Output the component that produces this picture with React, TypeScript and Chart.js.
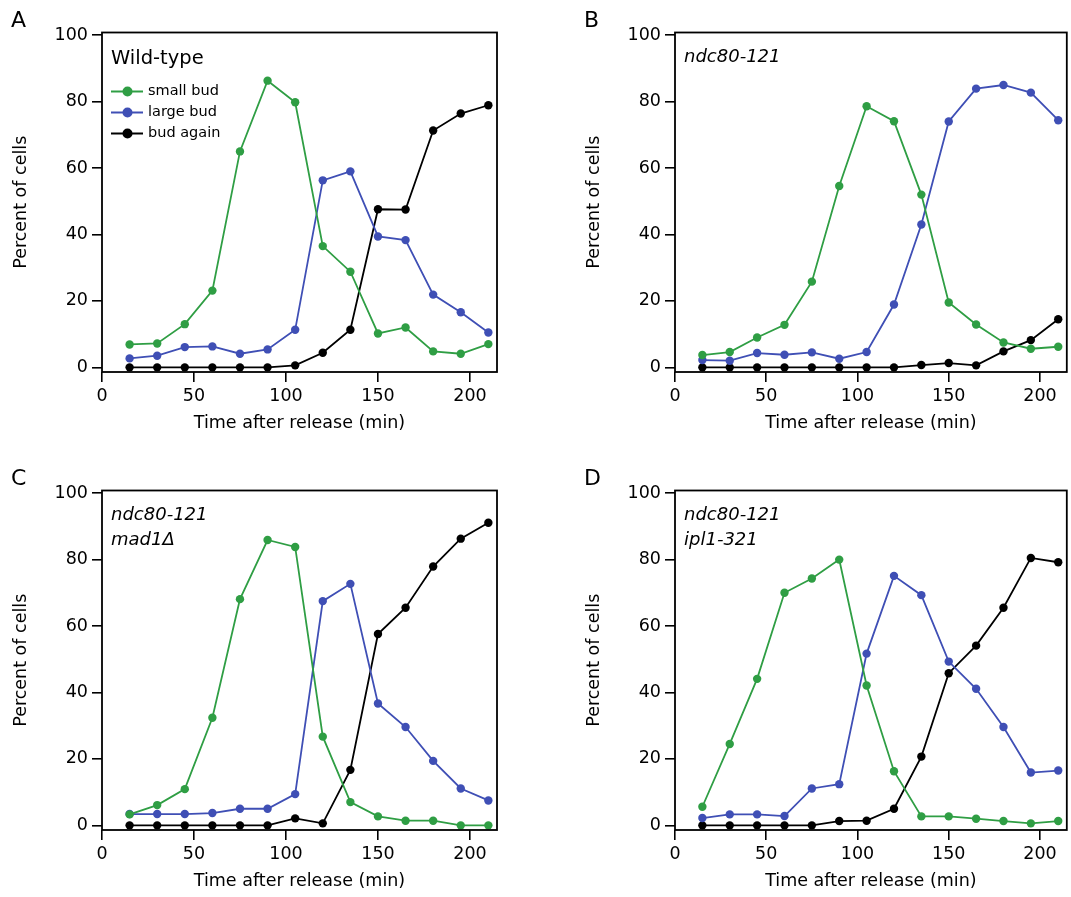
import React, { useEffect, useRef } from 'react';
import { Chart, registerables } from 'chart.js';

Chart.register(...registerables);

// ---- data ----
const times = [15, 30, 45, 60, 75, 90, 105, 120, 135, 150, 165, 180, 195, 210];
const xTickValues = [0, 50, 100, 150, 200];
const yTickValues = [0, 20, 40, 60, 80, 100];
const seriesLabels = ['small bud', 'large bud', 'bud again'];
const xTitle = 'Time after release (min)';
const yTitle = 'Percent of cells';

const wtSmall = [6.9, 7.2, 13.0, 23.1, 65.0, 86.3, 79.8, 36.5, 28.8, 10.2, 12.0, 4.8, 4.1, 7.0];
const wtLarge = [2.7, 3.5, 6.1, 6.3, 4.1, 5.4, 11.3, 56.3, 59.0, 39.4, 38.3, 21.9, 16.6, 10.5];
const wtAgain = [0, 0, 0, 0, 0, 0, 0.6, 4.4, 11.3, 47.6, 47.5, 71.3, 76.4, 78.9];

const ndcSmall = [3.7, 4.6, 9.0, 12.8, 25.8, 54.6, 78.6, 74.1, 52.0, 19.5, 12.9, 7.5, 5.6, 6.2];
const ndcLarge = [2.2, 2.0, 4.3, 3.8, 4.5, 2.6, 4.6, 18.9, 43.0, 74.0, 83.9, 85.0, 82.7, 74.4];
const ndcAgain = [0, 0, 0, 0, 0, 0, 0, 0, 0.7, 1.3, 0.6, 4.8, 8.2, 14.5];

const madSmall = [3.3, 6.1, 10.9, 32.4, 68.1, 85.9, 83.8, 26.7, 7.0, 2.7, 1.4, 1.4, 0, 0];
const madLarge = [3.4, 3.4, 3.4, 3.7, 5.0, 5.0, 9.4, 67.5, 72.7, 36.7, 29.6, 19.4, 11.1, 7.5];
const madAgain = [0, 0, 0, 0, 0, 0, 2.1, 0.6, 16.7, 57.6, 65.5, 77.9, 86.3, 91.1];

const iplSmall = [5.6, 24.5, 44.1, 70.0, 74.3, 80.0, 42.1, 16.3, 2.7, 2.7, 2.0, 1.3, 0.6, 1.3];
const iplLarge = [2.2, 3.3, 3.3, 2.8, 11.1, 12.4, 51.7, 75.1, 69.3, 49.3, 41.1, 29.6, 15.9, 16.5];
const iplAgain = [0, 0, 0, 0, 0, 1.3, 1.4, 5.0, 20.7, 45.8, 54.1, 65.5, 80.5, 79.2];

// ---- styles ----
const COLORS = ['#2f9e44', '#3f4fb5', '#000000'];
const FONT = 'DejaVu Sans';
const CANVAS_W = 540;
const CANVAS_H = 439;

type PanelProps = {
  left: number;
  top: number;
  width: number;
  padLeft: number;
  padRight: number;
  letter: string;
  letterX: number;
  lines: string[];
  italic: boolean;
  legend: boolean;
  series: number[][];
};

function Panel(p: PanelProps) {
  const ref = useRef<HTMLCanvasElement | null>(null);

  useEffect(() => {
    if (!ref.current) return;

    const framePlugin = {
      id: 'frame',
      afterDraw(chart: any) {
        const { ctx, chartArea } = chart;
        ctx.save();
        ctx.strokeStyle = '#000';
        ctx.lineWidth = 1.8;
        ctx.strokeRect(chartArea.left, chartArea.top, chartArea.right - chartArea.left, chartArea.bottom - chartArea.top);
        ctx.restore();
      },
    };

    const textPlugin = {
      id: 'texts',
      afterDraw(chart: any) {
        const { ctx, chartArea } = chart;
        ctx.save();
        ctx.fillStyle = '#000';
        ctx.textBaseline = 'middle';
        ctx.textAlign = 'left';
        ctx.font = `22px "${FONT}"`;
        ctx.fillText(p.letter, p.letterX, 21);
        const tx = chartArea.left + 9;
        if (p.italic) {
          ctx.font = `italic 18px "${FONT}"`;
          p.lines.forEach((l, i) => ctx.fillText(l, tx, 57 + i * 25));
        } else {
          ctx.font = `19.5px "${FONT}"`;
          p.lines.forEach((l, i) => ctx.fillText(l, tx, 59 + i * 25));
        }
        if (p.legend) {
          const rows = [91.5, 112.5, 133.5];
          chart.data.datasets.forEach((ds: any, i: number) => {
            const y = rows[i];
            ctx.strokeStyle = ds.borderColor;
            ctx.lineWidth = 2;
            ctx.beginPath();
            ctx.moveTo(tx, y);
            ctx.lineTo(tx + 32, y);
            ctx.stroke();
            ctx.fillStyle = ds.borderColor;
            ctx.beginPath();
            ctx.arc(tx + 16.5, y, 5, 0, Math.PI * 2);
            ctx.fill();
            ctx.fillStyle = '#000';
            ctx.font = `14.5px "${FONT}"`;
            ctx.fillText(ds.label, tx + 37, y);
          });
        }
        ctx.restore();
      },
    };

    const tickFont = { family: FONT, size: 17.5 };
    const chart = new Chart(ref.current, {
      type: 'line',
      data: {
        datasets: p.series.map((vals, i) => ({
          label: seriesLabels[i],
          data: times.map((t, j) => ({ x: t, y: vals[j] })),
          borderColor: COLORS[i],
          backgroundColor: COLORS[i],
          pointBackgroundColor: COLORS[i],
          pointBorderWidth: 0,
          pointRadius: 4.2,
          borderWidth: 1.8,
          tension: 0,
          fill: false,
        })),
      },
      options: {
        animation: false,
        responsive: false,
        maintainAspectRatio: false,
        layout: { padding: { top: 32.5, left: p.padLeft, right: p.padRight, bottom: 0 } },
        plugins: { legend: { display: false }, tooltip: { enabled: false } },
        scales: {
          x: {
            type: 'linear',
            min: 0,
            max: 214.7,
            afterBuildTicks: (s: any) => {
              s.ticks = xTickValues.map((v) => ({ value: v }));
            },
            afterFit: (s: any) => {
              s.height = 67;
              s.paddingLeft = 0;
              s.paddingRight = 0;
              s.paddingTop = 0;
              s.paddingBottom = 0;
            },
            ticks: { font: tickFont, color: '#000', padding: 4, maxRotation: 0, autoSkip: false },
            grid: { drawOnChartArea: false, drawTicks: true, tickLength: 10, color: '#000', lineWidth: 1.6 },
            border: { display: false },
            title: { display: true, text: xTitle, color: '#000', font: { family: FONT, size: 17.5 }, padding: { top: 0, bottom: 5.5 } },
          },
          y: {
            type: 'linear',
            min: -1.4,
            max: 100.8,
            afterBuildTicks: (s: any) => {
              s.ticks = yTickValues.map((v) => ({ value: v }));
            },
            afterFit: (s: any) => {
              s.width = 102;
              s.paddingLeft = 0;
              s.paddingRight = 0;
              s.paddingTop = 0;
              s.paddingBottom = 0;
            },
            ticks: { font: tickFont, color: '#000', padding: 4, autoSkip: false },
            grid: { drawOnChartArea: false, drawTicks: true, tickLength: 10, color: '#000', lineWidth: 1.6 },
            border: { display: false },
            title: { display: true, text: yTitle, color: '#000', font: { family: FONT, size: 17.5 }, padding: { top: 11, bottom: 0 } },
          },
        },
      } as any,
      plugins: [framePlugin, textPlugin],
    });
    return () => chart.destroy();
  }, []);

  return (
    <canvas
      ref={ref}
      width={p.width}
      height={CANVAS_H}
      style={{ position: 'absolute', left: p.left, top: p.top, width: p.width, height: CANVAS_H, display: 'block' }}
    />
  );
}

export default function App() {
  return (
    <div style={{ position: 'absolute', left: 0, top: 0, width: 1071, height: 897, overflow: 'hidden', background: '#fff' }}>
      <Panel left={0} top={0} width={CANVAS_W} padLeft={0} padRight={43} letter="A" letterX={11} lines={['Wild-type']} italic={false} legend={true} series={[wtSmall, wtLarge, wtAgain]} />
      <Panel left={540} top={0} width={531} padLeft={33} padRight={3.5} letter="B" letterX={44} lines={['ndc80-121']} italic={true} legend={false} series={[ndcSmall, ndcLarge, ndcAgain]} />
      <Panel left={0} top={458} width={CANVAS_W} padLeft={0} padRight={43} letter="C" letterX={11} lines={['ndc80-121', 'mad1\u0394']} italic={true} legend={false} series={[madSmall, madLarge, madAgain]} />
      <Panel left={540} top={458} width={531} padLeft={33} padRight={3.5} letter="D" letterX={44} lines={['ndc80-121', 'ipl1-321']} italic={true} legend={false} series={[iplSmall, iplLarge, iplAgain]} />
    </div>
  );
}
